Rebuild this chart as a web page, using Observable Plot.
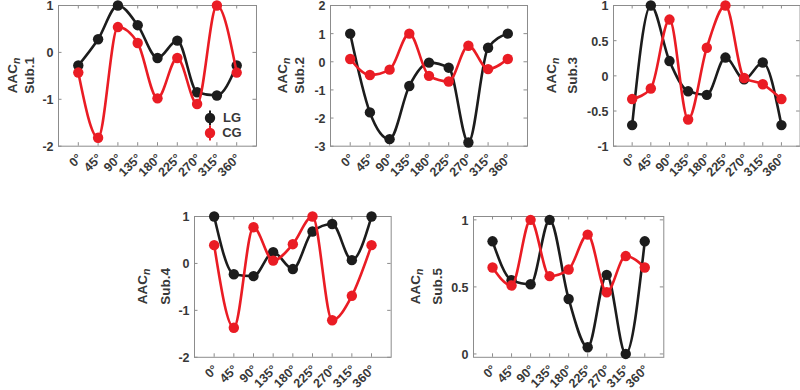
<!DOCTYPE html>
<html><head><meta charset="utf-8">
<script src="https://cdn.jsdelivr.net/npm/d3@7"></script>
<script src="https://cdn.jsdelivr.net/npm/@observablehq/plot@0.6"></script>
<style>
body{margin:0;background:#fff;}
#chart{position:relative;width:800px;height:390px;overflow:hidden;font-family:"Liberation Sans",Arial,sans-serif;}
#chart svg{position:absolute;overflow:visible;}
</style></head><body><div id="chart"></div>
<script>
// ---- data ----
const angles = [0, 45, 90, 135, 180, 225, 270, 315, 360];
const seriesNames = ["LG", "CG"];
const panelTitles = ["Sub.1", "Sub.2", "Sub.3", "Sub.4", "Sub.5"];

const sub1LG = [-0.28, 0.28, 1.0, 0.58, -0.12, 0.25, -0.85, -0.92, -0.28];
const sub1CG = [-0.43, -1.82, 0.54, 0.2, -0.98, -0.12, -1.1, 1.0, -0.43];
const sub2LG = [1.0, -1.8, -2.75, -0.86, -0.03, -0.21, -2.87, 0.5, 1.0];
const sub2CG = [0.1, -0.47, -0.28, 1.0, -0.5, -0.7, 0.57, -0.26, 0.1];
const sub3LG = [-0.7, 1.0, 0.21, -0.22, -0.27, 0.26, -0.05, 0.19, -0.7];
const sub3CG = [-0.33, -0.18, 0.8, -0.62, 0.4, 1.0, -0.03, -0.12, -0.33];
const sub4LG = [1.0, -0.23, -0.27, 0.24, -0.12, 0.68, 0.84, 0.07, 1.0];
const sub4CG = [0.39, -1.37, 0.77, 0.06, 0.41, 1.0, -1.21, -0.69, 0.39];
const sub5LG = [0.84, 0.55, 0.52, 1.0, 0.41, 0.05, 0.59, 0.0, 0.84];
const sub5CG = [0.645, 0.51, 1.0, 0.58, 0.63, 0.89, 0.46, 0.73, 0.645];

const yTicks1 = [-2, -1, 0, 1];
const yTicks2 = [-3, -2, -1, 0, 1, 2];
const yTicks3 = [-1, -0.5, 0, 0.5, 1];
const yTicks4 = [-2, -1, 0, 1];
const yTicks5 = [0, 0.5, 1];

// ---- layout / style ----
const BLACK = "#1c1c1c", RED = "#ea1c24", AXIS = "#8c8c8c", TEXT = "#383838";
const FONT = "'Liberation Sans', Arial, sans-serif";
const panels = [
  {lg: sub1LG, cg: sub1CG, ticks: yTicks1, dom: [-2, 1], box: [58, 256, 5, 145.7], off: [41.5, 24.5], title: panelTitles[0], legend: true},
  {lg: sub2LG, cg: sub2CG, ticks: yTicks2, dom: [-3, 2], box: [330, 527, 5, 145.7], off: [43.5, 26], title: panelTitles[1]},
  {lg: sub3LG, cg: sub3CG, ticks: yTicks3, dom: [-1, 1], box: [612.7, 799.3, 5, 145.7], off: [57.5, 36], title: panelTitles[2]},
  {lg: sub4LG, cg: sub4CG, ticks: yTicks4, dom: [-2, 1], box: [194.3, 391, 215.7, 356.5], off: [47, 23.6], title: panelTitles[3]},
  {lg: sub5LG, cg: sub5CG, ticks: yTicks5, dom: [-0.025, 1.025], box: [473, 663.3, 215.7, 356.5], off: [53, 31], title: panelTitles[4]}
];

const chart = document.getElementById("chart");
const ml = 62, mr = 8, mt = 8, mb = 48;

for (const p of panels) {
  const [L, R, T, B] = p.box;
  const fw = R - L, fh = B - T;
  const rows = angles.map((a, i) => ({angle: a, LG: p.lg[i], CG: p.cg[i]}));
  const svg = Plot.plot({
    width: fw + ml + mr, height: fh + mt + mb,
    marginLeft: ml, marginRight: mr, marginTop: mt, marginBottom: mb,
    style: {fontFamily: FONT, fontSize: "12.5px", fontWeight: "bold", color: TEXT, background: "transparent", overflow: "visible"},
    x: {domain: [-45, 405]},
    y: {domain: p.dom},
    marks: [
      Plot.tickY(p.ticks, {y: d => d, stroke: AXIS, insetRight: fw - 3.5}),
      Plot.tickY(p.ticks, {y: d => d, stroke: AXIS, insetLeft: fw - 3.5}),
      Plot.tickX(angles, {x: d => d, stroke: AXIS, insetTop: fh - 3.5}),
      Plot.tickX(angles, {x: d => d, stroke: AXIS, insetBottom: fh - 3.5}),
      Plot.frame({stroke: AXIS, strokeWidth: 1}),
      Plot.axisY({ticks: p.ticks, tickSize: 0, tickPadding: 5, dy: 1, fontSize: 12.5, tickFormat: d => String(d), label: null}),
      Plot.axisX({ticks: angles, tickSize: 0, tickPadding: 10, dx: 1.5, fontSize: 12.5, tickRotate: -45, textAnchor: "end", tickFormat: d => d + "°", label: null}),
      Plot.line(rows, {x: "angle", y: "LG", stroke: BLACK, strokeWidth: 2.6, curve: "monotone-x"}),
      Plot.dot(rows, {x: "angle", y: "LG", fill: BLACK, r: 5.2}),
      Plot.line(rows, {x: "angle", y: "CG", stroke: RED, strokeWidth: 2.6, curve: "monotone-x"}),
      Plot.dot(rows, {x: "angle", y: "CG", fill: RED, r: 5.2})
    ]
  });
  const sx = L - ml, sy = T - mt;
  svg.style.left = sx + "px";
  svg.style.top = sy + "px";
  const g = d3.select(svg).append("g")
    .attr("fill", TEXT).attr("font-family", FONT).attr("font-weight", "bold")
    .attr("font-size", 13.5).attr("text-anchor", "middle");
  const cy = mt + fh / 2;
  const t1 = g.append("text").attr("transform", `translate(${ml - p.off[0]},${cy}) rotate(-90)`);
  t1.append("tspan").text("AAC");
  t1.append("tspan").attr("font-style", "italic").attr("font-size", 10.5).attr("dy", 3).text("n");
  g.append("text").attr("transform", `translate(${ml - p.off[1]},${cy}) rotate(-90)`).text(p.title);

  if (p.legend) {
    const lg = d3.select(svg).append("g").attr("font-family", FONT).attr("font-weight", "bold").attr("font-size", 13).attr("fill", TEXT);
    [BLACK, RED].forEach((c, i) => {
      const x = 210 - sx, y = 118 + i * 15 - sy;
      lg.append("line").attr("x1", x).attr("x2", x).attr("y1", y - 7.5).attr("y2", y + 7.5).attr("stroke", c).attr("stroke-width", 2);
      lg.append("circle").attr("cx", x).attr("cy", y).attr("r", 5.2).attr("fill", c);
      lg.append("text").attr("x", 232 - sx).attr("y", y + 4.5).text(seriesNames[i]);
    });
  }
  chart.appendChild(svg);
}
</script></body></html>
